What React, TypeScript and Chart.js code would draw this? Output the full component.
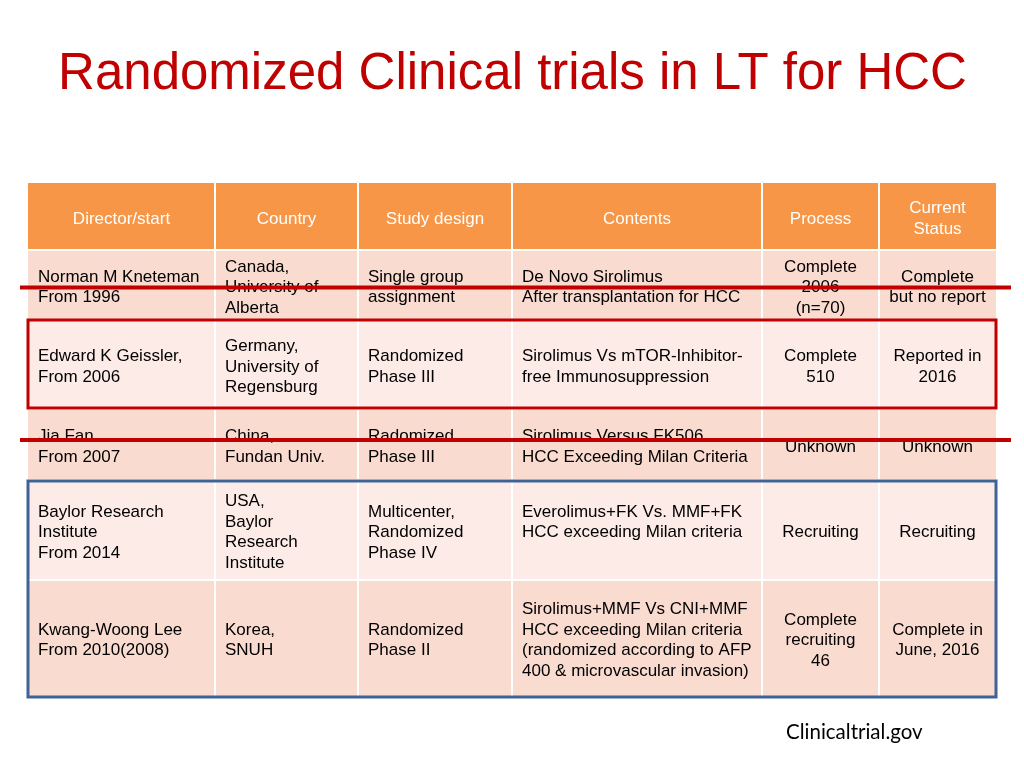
import React, { useEffect, useRef } from "react";
import { Chart, registerables } from "chart.js";

Chart.register(...registerables);

// ---- Data ----
const title = "Randomized Clinical trials in LT for HCC";
const source = "Clinicaltrial.gov";
const headers = ["Director/start", "Country", "Study design", "Contents", "Process", "Current\nStatus"];
const directors = [
  "Norman M Kneteman\nFrom 1996",
  "Edward K Geissler,\nFrom 2006",
  "Jia Fan\nFrom 2007",
  "Baylor Research\nInstitute\nFrom 2014",
  "Kwang-Woong Lee\nFrom 2010(2008)",
];
const countries = [
  "Canada,\nUniversity of\nAlberta",
  "Germany,\nUniversity of\nRegensburg",
  "China,\nFundan Univ.",
  "USA,\nBaylor\nResearch\nInstitute",
  "Korea,\nSNUH",
];
const designs = [
  "Single group\nassignment",
  "Randomized\nPhase III",
  "Radomized\nPhase III",
  "Multicenter,\nRandomized\nPhase IV",
  "Randomized\nPhase II",
];
const contents = [
  "De Novo Sirolimus\nAfter transplantation for HCC",
  "Sirolimus Vs mTOR-Inhibitor-\nfree Immunosuppression",
  "Sirolimus Versus FK506\nHCC Exceeding Milan Criteria",
  "Everolimus+FK Vs. MMF+FK\nHCC exceeding Milan criteria\n",
  "Sirolimus+MMF Vs CNI+MMF\nHCC exceeding Milan criteria\n(randomized according to AFP\n400 & microvascular invasion)",
];
const processes = ["Complete\n2006\n(n=70)", "Complete\n510", "Unknown", "Recruiting", "Complete\nrecruiting\n46"];
const statuses = ["Complete\nbut no report", "Reported in\n2016", "Unknown", "Recruiting", "Complete in\nJune, 2016"];
const columns = [directors, countries, designs, contents, processes, statuses];

// rows highlighted (index into body rows)
const redBoxRows = [1];
const blueBoxRows = [3, 4];
const strikeRows = [0, 2];

// ---- Layout (in page units, mapped through the chart's scales) ----
const colEdges = [28, 215, 358, 512, 762, 879, 996];
const rowEdges = [183, 250, 320, 409, 480, 580, 696];
const colAlign: ("left" | "center")[] = ["left", "left", "left", "left", "center", "center"];
const strikeY = [287.5, 440];

const FONT = "'Liberation Sans', Arial, sans-serif";

const tablePlugin = {
  id: "tablePlugin",
  afterDraw(chart: any) {
    const ctx = chart.ctx as CanvasRenderingContext2D;
    const xs = chart.scales.x;
    const ys = chart.scales.y;
    const X = (v: number) => xs.getPixelForValue(v);
    const Y = (v: number) => ys.getPixelForValue(v);
    ctx.save();

    // title
    ctx.fillStyle = "#C00000";
    ctx.font = `51px ${FONT}`;
    ctx.textAlign = "center";
    ctx.textBaseline = "alphabetic";
    ctx.fillText(title, X(512.5), Y(88.5));

    const nRows = rowEdges.length - 1;
    const lineH = 20.6;
    for (let r = 0; r < nRows; r++) {
      for (let c = 0; c < colEdges.length - 1; c++) {
        const x0 = X(colEdges[c]);
        const x1 = X(colEdges[c + 1]);
        const y0 = Y(rowEdges[r]);
        const y1 = Y(rowEdges[r + 1]);
        let fill: string;
        if (r === 0) fill = "#F79646";
        else fill = r % 2 === 1 ? "#F9DBD0" : "#FCEBE6";
        ctx.fillStyle = fill;
        ctx.fillRect(x0, y0, x1 - x0, y1 - y0);
        // white separators
        ctx.fillStyle = "#FFFFFF";
        if (c > 0) ctx.fillRect(x0 - 1, y0, 2, y1 - y0);
        if (r > 0) ctx.fillRect(x0, y0 - 1, x1 - x0, 2);

        const txt = r === 0 ? headers[c] : columns[c][r - 1];
        const lines = txt.split("\n");
        const align = r === 0 ? "center" : colAlign[c];
        ctx.font = `17px ${FONT}`;
        ctx.fillStyle = r === 0 ? "#FFFFFF" : "#000000";
        ctx.textAlign = align;
        ctx.textBaseline = "middle";
        const cy = (y0 + y1) / 2 + 2.5;
        const tx = align === "center" ? (x0 + x1) / 2 : x0 + 10;
        const startY = cy - ((lines.length - 1) * lineH) / 2;
        lines.forEach((ln, i) => ctx.fillText(ln, tx, startY + i * lineH));
      }
    }

    // red box
    ctx.lineWidth = 3;
    ctx.strokeStyle = "#C00000";
    redBoxRows.forEach((br) => {
      ctx.strokeRect(X(colEdges[0]), Y(rowEdges[br + 1]), X(colEdges[6]) - X(colEdges[0]), Y(rowEdges[br + 2]) - Y(rowEdges[br + 1]) - 1);
    });
    // blue box
    ctx.strokeStyle = "#3F6397";
    const bTop = Y(rowEdges[blueBoxRows[0] + 1]) + 1;
    const bBot = Y(rowEdges[blueBoxRows[blueBoxRows.length - 1] + 2]) + 1;
    ctx.strokeRect(X(colEdges[0]), bTop, X(colEdges[6]) - X(colEdges[0]), bBot - bTop);

    // strike lines
    ctx.strokeStyle = "#C00000";
    ctx.lineWidth = 4;
    strikeRows.forEach((sr, i) => {
      ctx.beginPath();
      ctx.moveTo(X(20), Y(strikeY[i]));
      ctx.lineTo(X(1011), Y(strikeY[i]));
      ctx.stroke();
    });

    // source
    ctx.fillStyle = "#000000";
    ctx.font = "20.5px Lato, 'Noto Sans', sans-serif";
    ctx.textAlign = "left";
    ctx.textBaseline = "alphabetic";
    ctx.fillText(source, X(786), Y(739));
    ctx.restore();
  },
};

export default function App() {
  const ref = useRef<HTMLCanvasElement | null>(null);
  useEffect(() => {
    if (!ref.current) return;
    const chart = new Chart(ref.current, {
      type: "scatter",
      data: { datasets: [] },
      options: {
        animation: false,
        responsive: true,
        maintainAspectRatio: false,
        layout: { padding: 0 },
        plugins: { legend: { display: false }, tooltip: { enabled: false }, title: { display: false } },
        scales: {
          x: { type: "linear", min: 0, max: 1024, display: false },
          y: { type: "linear", min: 0, max: 768, reverse: true, display: false },
        },
      },
      plugins: [tablePlugin],
    });
    return () => chart.destroy();
  }, []);
  return (
    <div style={{ position: "fixed", left: 0, top: 0, width: 1024, height: 768, background: "#fff" }}>
      <canvas ref={ref} />
    </div>
  );
}
